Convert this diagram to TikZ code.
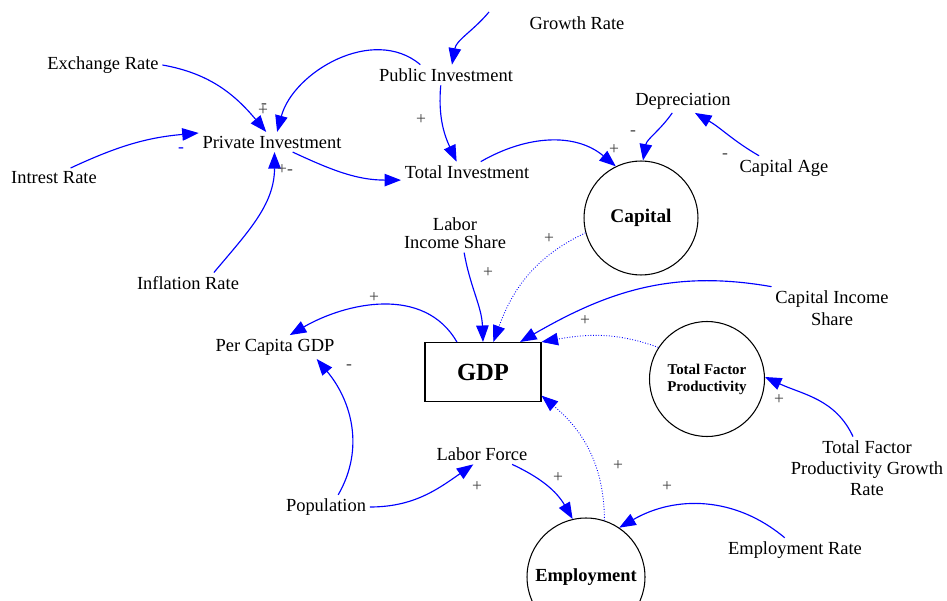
\documentclass[tikz,border=0pt]{standalone}
\usepackage{fontspec}
\setmainfont{Liberation Serif}
\usetikzlibrary{arrows.meta}

\begin{document}
\begin{tikzpicture}[x=0.02cm,y=0.02cm,
    var/.style={inner sep=2pt,font=\fontsize{10.5}{12}\selectfont,align=center},
    stock/.style={draw,circle,inner sep=0pt,line width=0.6pt,align=center},
    link/.style={blue,line width=0.65pt,-{Triangle[length=3.3mm,width=2.5mm]}},
    pol/.style={inner sep=0pt,text=black!75,font=\fontsize{10}{12}\selectfont}]
  \useasboundingbox (0,0) rectangle (947,-601);

  \node[var] (gr) at (577,-23) {Growth Rate};
  \coordinate (grt) at (489,-12);
  \node[var] (exr) at (103,-65) {Exchange Rate};
  \node[var] (pubi) at (446,-75) {Public Investment};
  \node[var] (privi) at (272,-142) {Private Investment};
  \node[var] (intr) at (54,-178) {Intrest Rate};
  \node[var] (toti) at (467,-172) {Total Investment};
  \node[var] (dep) at (683,-101) {Depreciation};
  \node[var] (cage) at (784,-168) {Capital Age};
  \node[var,font=\fontsize{10.5}{10.5}\selectfont] (lis) at (455,-233) {Labor\\Income Share};
  \node[var] (infl) at (188,-283) {Inflation Rate};
  \node[var,font=\fontsize{10.5}{12.5}\selectfont] (cis) at (832,-308) {Capital Income\\Share};
  \node[var] (pcgdp) at (275,-347) {Per Capita GDP};
  \node[var] (tfpg) at (867,-468) {Total Factor\\Productivity Growth\\Rate};
  \node[var] (lf) at (482,-454) {Labor Force};
  \node[var] (pop) at (326,-507) {Population};
  \node[var] (emr) at (795,-550) {Employment Rate};

  \node[stock,minimum size=2.28cm,font=\bfseries\fontsize{11}{12}\selectfont] (cap) at (641,-218) {Capital};
  \node[draw,line width=0.6pt,minimum width=2.32cm,minimum height=1.18cm,
        font=\bfseries\fontsize{14}{16}\selectfont] (gdp) at (483,-372) {GDP};
  \node[stock,minimum size=2.3cm,font=\bfseries\fontsize{8.5}{9.6}\selectfont] (tfp) at (707,-379) {Total Factor\\Productivity};
  \node[stock,minimum size=2.36cm,font=\bfseries\fontsize{10.5}{12}\selectfont] (emp) at (586,-577) {Employment};

  \begin{scope}[link]
    \draw (grt) to[out=230,in=80] (pubi.60);
    \draw (exr.east) to[out=-10,in=130] (privi.120);
    \draw (pubi.158) to[out=140,in=75] (privi.63);
    \draw (intr.31) to[out=25,in=185] (privi.173);
    \draw (infl.22) to[out=50,in=270] (privi.-76);
    \draw (privi.-26) to[out=-25,in=180] (toti.187);
    \draw (pubi.-117) to[out=-95,in=115] (toti.135);
    \draw (toti.37) to[out=30,in=140] (cap.116);
    \draw (dep.-132) to[out=235,in=80] (cap.88);
    \draw ([xshift=-0.5cm]cage.north) to[out=150,in=-30] (dep.-45);
    \draw (lis.-65) to[out=-80,in=92] (gdp.north);
    \draw (cis.north west) to[out=170,in=30] (gdp.39);
    \draw (gdp.131) to[out=120,in=30] (pcgdp.39);
    \draw (pop.45) to[out=60,in=-50] (pcgdp.-16);
    \draw (pop.east) to[out=0,in=215] (lf.-130);
    \draw (lf.-19) to[out=-25,in=120] (emp.103);
    \draw (emr.130) to[out=140,in=30] (emp.56);
    \draw (tfpg.114) to[out=115,in=-25] (tfp.2);
  \end{scope}
  \begin{scope}[link,line width=0.5pt,densely dotted]
    \draw (cap.195) to[out=205,in=70] (gdp.71);
    \draw (tfp.147) to[out=160,in=10] (gdp.north east);
    \draw (emp.72) to[out=90,in=-40] (gdp.-22);
  \end{scope}

  \node[pol] (s1) at (263,-111) {+};
  \node[pol] (s2) at (264,-106) {-};
  \node[pol,text=blue] (s3) at (181,-150) {-};
  \node[pol] (s4) at (282,-170) {+};
  \node[pol] (s5) at (290,-172) {-};
  \node[pol] (s6) at (421,-120) {+};
  \node[pol] (s7) at (614,-150) {+};
  \node[pol] (s8) at (633,-133) {-};
  \node[pol] (s9) at (725,-156) {-};
  \node[pol] (s10) at (549,-239) {+};
  \node[pol] (s11) at (488,-273) {+};
  \node[pol] (s12) at (374,-298) {+};
  \node[pol] (s13) at (585,-321) {+};
  \node[pol] (s14) at (349,-367) {-};
  \node[pol] (s15) at (779,-400) {+};
  \node[pol] (s16) at (477,-487) {+};
  \node[pol] (s17) at (558,-478) {+};
  \node[pol] (s18) at (618,-466) {+};
  \node[pol] (s19) at (667,-487) {+};
\end{tikzpicture}
\end{document}
